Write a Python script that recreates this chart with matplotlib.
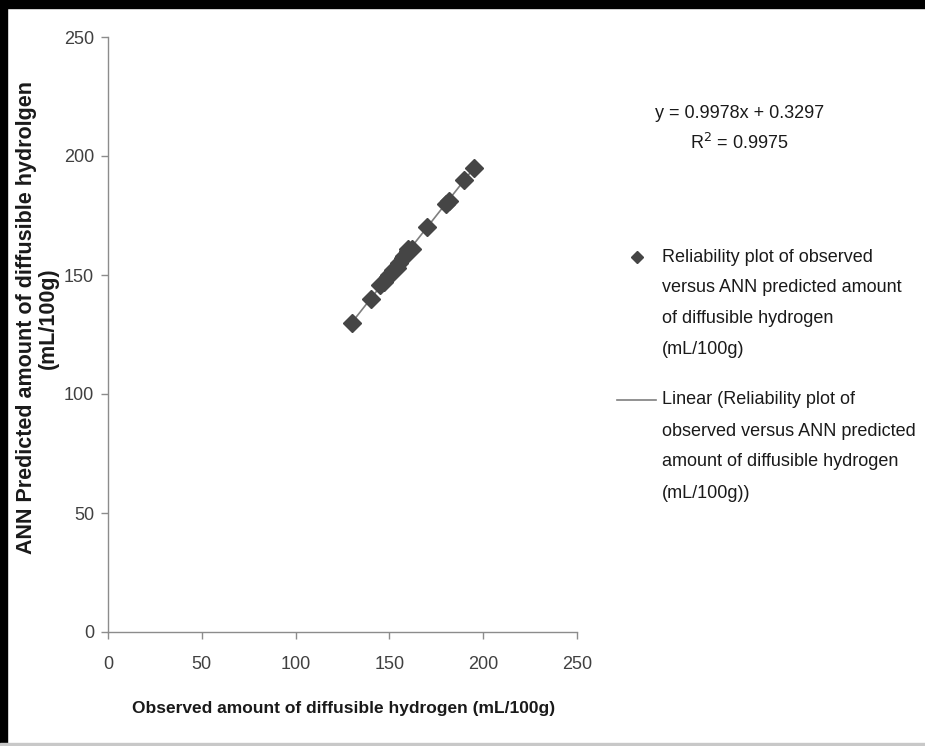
import numpy as np
import matplotlib
matplotlib.use("Agg")
import matplotlib.pyplot as plt
from matplotlib.patches import Rectangle
from matplotlib.lines import Line2D

plt.rcParams['font.family'] = ['Liberation Sans', 'DejaVu Sans']

# Data
observed = [130, 140, 145, 147, 149, 150, 152, 154, 155, 157, 158, 160, 160, 162, 170, 180, 182, 190, 195]
predicted = [130, 140, 146, 147, 149, 150, 152, 153, 155, 157, 158, 161, 160, 161, 170, 180, 181, 190, 195]
slope, intercept = 0.9978, 0.3297
r2 = 0.9975
xticks = [0, 50, 100, 150, 200, 250]
yticks = [0, 50, 100, 150, 200, 250]
legend_point = ['Reliability plot of observed', 'versus ANN predicted amount',
                'of diffusible hydrogen', '(mL/100g)']
legend_line = ['Linear (Reliability plot of', 'observed versus ANN predicted',
               'amount of diffusible hydrogen', '(mL/100g))']

W, H = 925, 746
fig = plt.figure(figsize=(W / 100, H / 100), dpi=100)
ax = fig.add_axes([108 / W, 1 - 632 / H, (577 - 108) / W, (632 - 37) / H])

grey = '#8c8c8c'
mk = '#454545'
txt = '#1a1a1a'

xs = np.array([min(observed), max(observed)])
trend, = ax.plot(xs, slope * xs + intercept, color='#7f7f7f', lw=1.2, zorder=2)
pts, = ax.plot(observed, predicted, linestyle='none', marker='D', markersize=9.5,
               color=mk, markeredgecolor=mk, zorder=3)

ax.set_xlim(0, 250)
ax.set_ylim(0, 250)
ax.set_xticks(xticks)
ax.set_yticks(yticks)
ax.set_xticklabels([str(v) for v in xticks])
ax.set_yticklabels([str(v) for v in yticks])
for s in ['top', 'right']:
    ax.spines[s].set_visible(False)
for s in ['left', 'bottom']:
    ax.spines[s].set_color(grey)
    ax.spines[s].set_linewidth(1.0)
ax.tick_params(axis='both', colors=grey, labelcolor='#404040', labelsize=13,
               length=5, width=1)
ax.tick_params(axis='y', pad=5)
ax.tick_params(axis='x', pad=12)

fig.text(344 / W, 1 - 708 / H, 'Observed amount of diffusible hydrogen (mL/100g)',
         ha='center', va='center', fontsize=12.5, fontweight='bold', color=txt)
fig.text(27 / W, 1 - 317 / H, 'ANN Predicted amount of diffusible hydrolgen',
         rotation=90, ha='center', va='center', fontsize=15.5, fontweight='bold',
         color=txt)
fig.text(48 / W, 1 - 318 / H, '(mL/100g)', rotation=90, ha='center', va='center',
         fontsize=15.5, fontweight='bold', color=txt)

fig.text(655 / W, 1 - 113 / H, f'y = {slope}x + {intercept}', ha='left', va='center',
         fontsize=13, color=txt)
fig.text(690 / W, 1 - 143 / H, f'R$^2$ = {r2}', ha='left', va='center',
         fontsize=13, color=txt)

# legend drawn by hand so that the symbols line up with the first text line
fig.add_artist(Line2D([637 / W], [1 - 257 / H], transform=fig.transFigure,
                      marker='D', markersize=6, color=mk, linestyle='none'))
for i, line in enumerate(legend_point):
    fig.text(662 / W, 1 - (257 + 31 * i) / H, line, ha='left', va='center',
             fontsize=13, color=txt)
fig.add_artist(Line2D([617 / W, 656 / W], [1 - 400 / H, 1 - 400 / H],
                      transform=fig.transFigure, color='#7f7f7f', lw=1.2))
for i, line in enumerate(legend_line):
    fig.text(662 / W, 1 - (400 + 31 * i) / H, line, ha='left', va='center',
             fontsize=13, color=txt)

# frame of the image
fig.patches.append(Rectangle((0, 1 - 8 / H), 1, 8 / H, transform=fig.transFigure,
                             color='black', zorder=10))
fig.patches.append(Rectangle((0, 0), 7 / W, 1, transform=fig.transFigure,
                             color='black', zorder=10))
fig.patches.append(Rectangle((0, 0), 1, 3 / H, transform=fig.transFigure,
                             color='#c8c8c8', zorder=10))

fig.savefig('out.png', dpi=100)
